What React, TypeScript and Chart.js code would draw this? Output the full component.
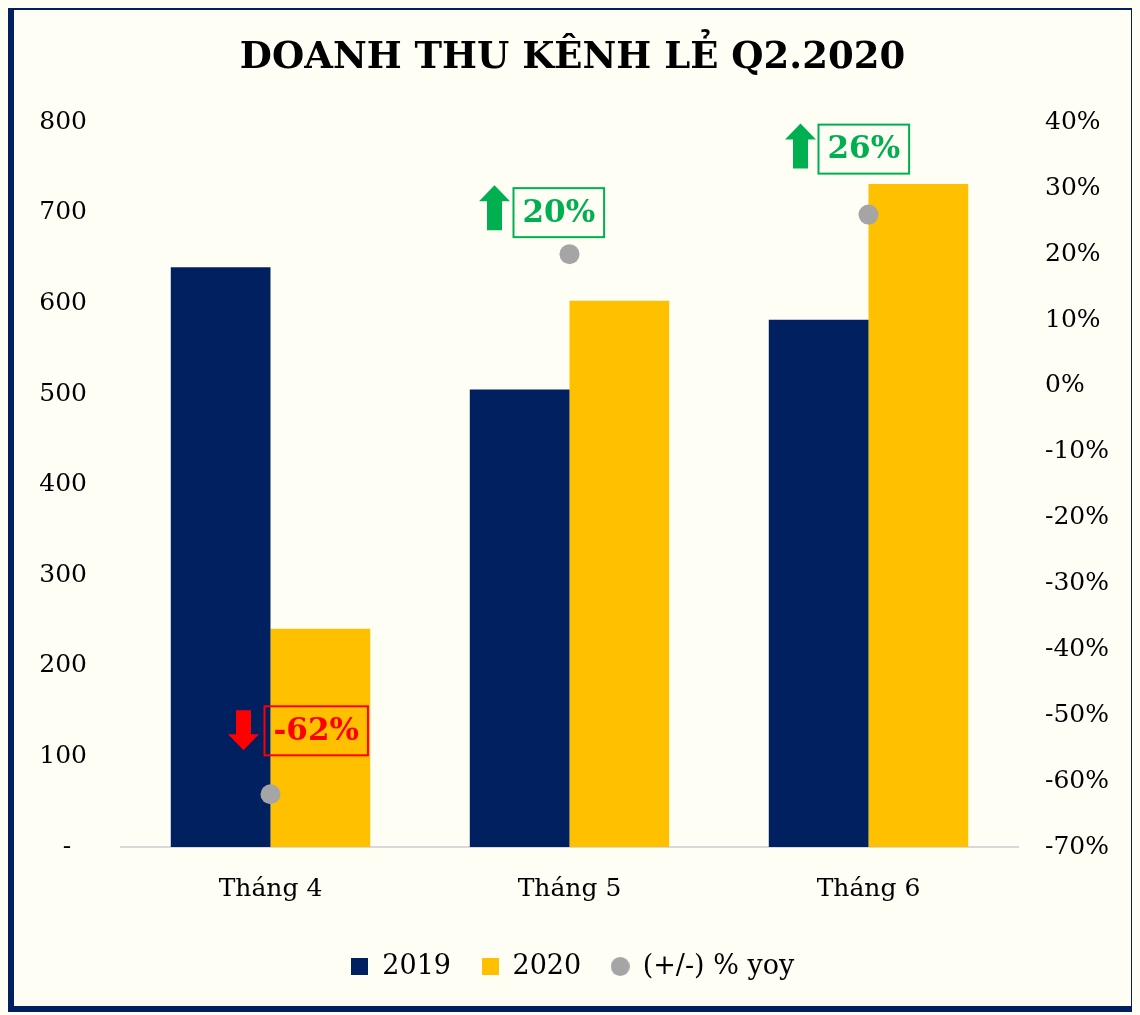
import React, { useEffect, useRef } from 'react';
import { Chart, registerables } from 'chart.js';

Chart.register(...registerables);

const categories = ['Tháng 4', 'Tháng 5', 'Tháng 6'];
const seriesNames = ['2019', '2020', '(+/-) % yoy'];
const revenue2019 = [640, 505, 582];
const revenue2020 = [241, 603, 732];
const yoyPercent = [-62, 20, 26];
const titleText = 'DOANH THU KÊNH LẺ Q2.2020';

const NAVY = '#002060';
const GOLD = '#FFC000';
const GRAY = '#A5A5A5';
const RED = '#FF0000';
const GREEN = '#00B050';
const BG = '#FEFEF5';
const FONT = "'DejaVu Serif', serif";

function makeIcon(color: string, shape: 'rect' | 'circle', size: number) {
  const c = document.createElement('canvas');
  c.width = size;
  c.height = size;
  const g = c.getContext('2d')!;
  g.fillStyle = color;
  if (shape === 'rect') {
    g.fillRect(0, 0, size, size);
  } else {
    g.beginPath();
    g.arc(size / 2, size / 2, size / 2, 0, Math.PI * 2);
    g.fill();
  }
  return c;
}

const annotationPlugin = {
  id: 'yoyAnnotations',
  afterDatasetsDraw(chart: any, _args: any, opts: any) {
    const meta = chart.getDatasetMeta(2);
    if (!meta || !meta.data) return;
    const ctx = chart.ctx;
    const values = chart.data.datasets[2].data as number[];
    meta.data.forEach((pt: any, i: number) => {
      const v = values[i];
      const off = opts.offsets[i];
      const color = v < 0 ? RED : GREEN;
      const text = `${v}%`;
      const px = pt.x;
      const py = pt.y;
      ctx.save();
      // arrow
      const ax = px + off.ax;
      const ay = py + off.ay;
      const headW = 31;
      const shaftW = 15;
      const headH = 16;
      const total = off.len;
      ctx.fillStyle = color;
      ctx.beginPath();
      if (v < 0) {
        ctx.moveTo(ax - shaftW / 2, ay);
        ctx.lineTo(ax + shaftW / 2, ay);
        ctx.lineTo(ax + shaftW / 2, ay + total - headH);
        ctx.lineTo(ax + headW / 2, ay + total - headH);
        ctx.lineTo(ax, ay + total);
        ctx.lineTo(ax - headW / 2, ay + total - headH);
        ctx.lineTo(ax - shaftW / 2, ay + total - headH);
      } else {
        ctx.moveTo(ax, ay);
        ctx.lineTo(ax + headW / 2, ay + headH);
        ctx.lineTo(ax + shaftW / 2, ay + headH);
        ctx.lineTo(ax + shaftW / 2, ay + total);
        ctx.lineTo(ax - shaftW / 2, ay + total);
        ctx.lineTo(ax - shaftW / 2, ay + headH);
        ctx.lineTo(ax - headW / 2, ay + headH);
      }
      ctx.closePath();
      ctx.fill();
      // box
      ctx.font = `bold 31px ${FONT}`;
      const tw = ctx.measureText(text).width;
      const bw = tw + 18;
      const bh = 49;
      const bx = px + off.bx;
      const by = py + off.by;
      ctx.strokeStyle = color;
      ctx.lineWidth = 2;
      ctx.strokeRect(bx, by, bw, bh);
      ctx.fillStyle = color;
      ctx.textAlign = 'center';
      ctx.textBaseline = 'middle';
      ctx.fillText(text, bx + bw / 2, by + bh / 2 + 1);
      ctx.restore();
    });
  },
};

export default function App() {
  const canvasRef = useRef<HTMLCanvasElement | null>(null);

  useEffect(() => {
    document.body.style.background = BG;
    const icons = [makeIcon(NAVY, 'rect', 17), makeIcon(GOLD, 'rect', 17), makeIcon(GRAY, 'circle', 19)];
    const chart = new Chart(canvasRef.current!, {
      type: 'bar',
      data: {
        labels: categories,
        datasets: [
          {
            type: 'bar',
            label: seriesNames[0],
            data: revenue2019,
            backgroundColor: NAVY,
            yAxisID: 'y',
            order: 2,
            categoryPercentage: 0.667,
            barPercentage: 1.0,
          },
          {
            type: 'bar',
            label: seriesNames[1],
            data: revenue2020,
            backgroundColor: GOLD,
            yAxisID: 'y',
            order: 2,
            categoryPercentage: 0.667,
            barPercentage: 1.0,
          },
          {
            type: 'line',
            label: seriesNames[2],
            data: yoyPercent,
            yAxisID: 'y1',
            showLine: false,
            pointRadius: 10,
            pointHoverRadius: 10,
            pointBackgroundColor: GRAY,
            pointBorderColor: GRAY,
            pointBorderWidth: 0,
            borderColor: GRAY,
            backgroundColor: GRAY,
            order: 1,
          } as any,
        ],
      },
      options: {
        animation: false,
        responsive: true,
        maintainAspectRatio: false,
        layout: { padding: { left: 0, right: 0, top: 0, bottom: 16 } },
        plugins: {
          tooltip: { enabled: false },
          title: {
            display: true,
            text: titleText,
            color: '#000',
            font: { family: FONT, size: 37, weight: 'bold' },
            padding: { top: 26, bottom: 42 },
          },
          legend: {
            display: true,
            position: 'bottom',
            labels: {
              usePointStyle: true,
              boxWidth: 18,
              boxHeight: 18,
              padding: 30,
              color: '#000',
              font: { family: FONT, size: 27, lineHeight: 1 },
              generateLabels: (ch: any) =>
                ch.data.datasets.map((ds: any, i: number) => ({
                  text: ds.label,
                  pointStyle: icons[i],
                  fillStyle: 'transparent',
                  strokeStyle: 'transparent',
                  lineWidth: 0,
                  hidden: !ch.isDatasetVisible(i),
                  datasetIndex: i,
                  fontColor: '#000',
                })),
            },
          },
          yoyAnnotations: {
            offsets: [
              { bx: -6, by: -88, ax: -27, ay: -84, len: 40 },
              { bx: -56, by: -66, ax: -75, ay: -69, len: 45 },
              { bx: -50, by: -90, ax: -68, ay: -91, len: 45 },
            ],
          },
        } as any,
        scales: {
          x: {
            offset: true,
            grid: { display: false, drawTicks: false },
            border: { display: true, color: '#D9D9D9', width: 2 },
            ticks: { color: '#000', font: { family: FONT, size: 25 }, padding: 27 },
            afterFit: (s: any) => {
              s.height = 76;
            },
          },
          y: {
            position: 'left',
            min: 0,
            max: 800,
            grid: { display: false, drawTicks: false },
            border: { display: false },
            ticks: {
              stepSize: 100,
              color: '#000',
              font: { family: FONT, size: 25 },
              padding: 34,
              callback: (v: any) => (Number(v) === 0 ? '-  ' : String(v)),
            },
            afterFit: (s: any) => {
              s.width = 107;
            },
          },
          y1: {
            position: 'right',
            min: -70,
            max: 40,
            grid: { display: false, drawTicks: false },
            border: { display: false },
            ticks: {
              stepSize: 10,
              color: '#000',
              font: { family: FONT, size: 25 },
              padding: 27,
              callback: (v: any) => `${Math.round(Number(v))}%`,
            },
            afterFit: (s: any) => {
              s.width = 113;
            },
          },
        },
      },
      plugins: [annotationPlugin],
    });
    return () => chart.destroy();
  }, []);

  return (
    <div
      style={{
        marginTop: -4,
        width: 1117,
        height: 996,
        border: `6px solid ${NAVY}`,
        background: BG,
        position: 'relative',
      }}
    >
      <canvas ref={canvasRef} />
    </div>
  );
}
